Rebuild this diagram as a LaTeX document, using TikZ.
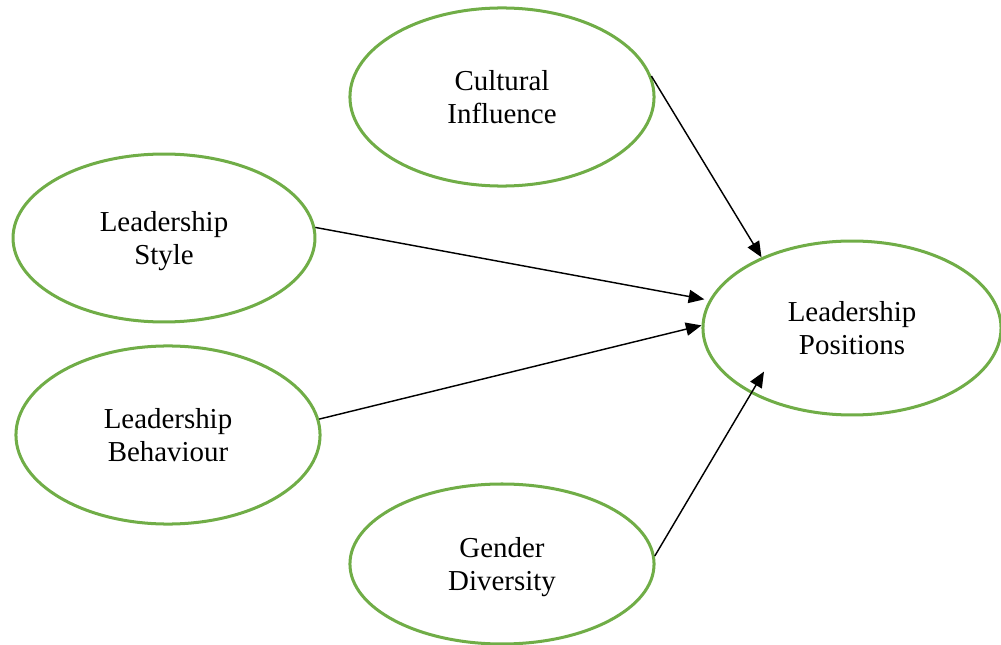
\documentclass[tikz,border=0pt]{standalone}
\usepackage{fontspec}
\setmainfont{Liberation Serif}
\usepackage{xcolor}
\usetikzlibrary{shapes.geometric, arrows.meta}

\definecolor{leafgreen}{HTML}{70AD47}

\tikzset{
    construct/.style={ellipse, draw=leafgreen, line width=1.25pt, inner sep=0pt,
        align=center, text depth=0pt, font=\fontsize{12}{13.8}\selectfont},
    path arrow/.style={-{Triangle[length=6.5pt, width=5.5pt]}, line width=0.6pt}
}

\begin{document}
\begin{tikzpicture}[x=0.415pt, y=-0.415pt]
\useasboundingbox (0,0) rectangle (1001,645);

\node[construct, minimum width=126.2pt, minimum height=73.9pt] (cult) at (502,97) {Cultural\\Influence};
\node[construct, minimum width=125.3pt, minimum height=69.7pt] (style) at (164,238) {Leadership\\Style};
\node[construct, minimum width=126.2pt, minimum height=73.9pt] (behav) at (168,435) {Leadership\\Behaviour};
\node[construct, minimum width=126.2pt, minimum height=66.4pt] (gend) at (502,564) {Gender\\Diversity};
\node[construct, minimum width=123.7pt, minimum height=72.2pt] (pos) at (852,328) {Leadership\\Positions};

% paths into leadership positions
\draw[path arrow] (cult.8) -- (pos.142);
\draw[path arrow, shorten >=2pt] (style.4) -- (pos.169);
\draw[path arrow] (behav.6) -- (pos.179);
\draw[path arrow, shorten >=-10.6pt] (gend.3) -- (pos.213);
\end{tikzpicture}
\end{document}
